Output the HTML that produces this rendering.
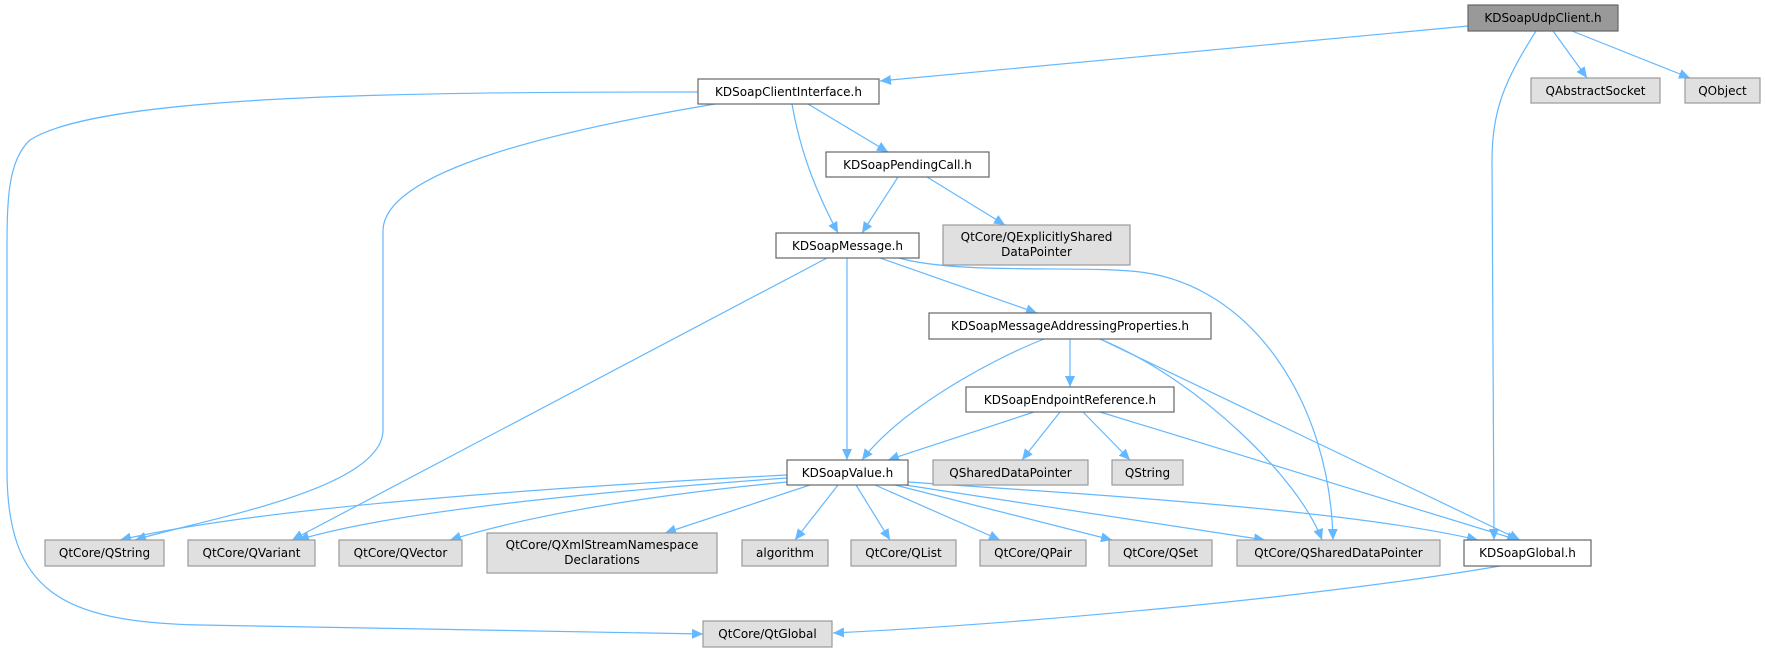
<!DOCTYPE html>
<html><head><meta charset="utf-8"><style>html,body{margin:0;padding:0;background:#fff;}svg{display:block}</style></head>
<body>
<svg width="1765" height="652" viewBox="0 0 1765 652" xmlns="http://www.w3.org/2000/svg" font-family="'DejaVu Sans','Liberation Sans',sans-serif" font-size="12">
<defs>
<marker id="a" markerUnits="userSpaceOnUse" markerWidth="12" markerHeight="10" refX="11" refY="5" orient="auto">
<path d="M0,0 L11,5 L0,10 Z" fill="#63b8ff"/>
</marker>
</defs>
<g fill="none" stroke="#63b8ff" stroke-width="1.2" marker-end="url(#a)">
<path d="M1468,26 L880,81"/>
<path d="M1553,31 L1587,78"/>
<path d="M1572,31 L1690,78"/>
<path d="M1536,31 C1505,80 1492,110 1492,160 L1494,540"/>
<path d="M698,92 C400,92 100,95 30,140 C8,160 7,200 7,250 L7,470 C7,590 60,622 200,625 L703,634"/>
<path d="M715,104 C560,130 385,170 383,230 L383,430 C383,490 200,520 135,540"/>
<path d="M792,104 C800,150 815,190 838,233"/>
<path d="M808,104 L888,152"/>
<path d="M898,177 L862,233"/>
<path d="M927,177 L1005,225"/>
<path d="M827,258 L292,540"/>
<path d="M847,258 L847,460"/>
<path d="M880,258 L1037,313"/>
<path d="M899,258 C960,275 1080,265 1140,272 C1250,285 1330,400 1333,540"/>
<path d="M1044,339 C990,360 900,410 862,460"/>
<path d="M1070,339 L1070,387"/>
<path d="M1100,339 C1200,380 1300,480 1322,540"/>
<path d="M1100,339 L1520,540"/>
<path d="M1034,412 L888,460"/>
<path d="M1060,412 L1022,460"/>
<path d="M1083,412 L1130,460"/>
<path d="M1100,412 L1518,540"/>
<path d="M787,475 C500,490 250,510 120,540"/>
<path d="M787,478 C550,495 380,515 298,540"/>
<path d="M787,482 C650,495 530,515 450,540"/>
<path d="M810,485 L665,533"/>
<path d="M838,485 L795,540"/>
<path d="M856,485 L890,540"/>
<path d="M875,485 L1000,540"/>
<path d="M895,485 L1112,540"/>
<path d="M905,485 L1265,540"/>
<path d="M908,482 C1100,495 1350,510 1478,540"/>
<path d="M1500,566 C1300,600 1000,625 833,633"/>
</g>
<g stroke-width="1.2">
<rect x="1468" y="5" width="150" height="26" fill="#999" stroke="#666"/>
<rect x="1531" y="78" width="129" height="25" fill="#e0e0e0" stroke="#999"/>
<rect x="1685" y="78" width="75" height="25" fill="#e0e0e0" stroke="#999"/>
<rect x="698" y="79" width="181" height="25" fill="#fff" stroke="#666"/>
<rect x="826" y="152" width="163" height="25" fill="#fff" stroke="#666"/>
<rect x="943" y="225" width="187" height="40" fill="#e0e0e0" stroke="#999"/>
<rect x="776" y="233" width="143" height="25" fill="#fff" stroke="#666"/>
<rect x="929" y="313" width="282" height="26" fill="#fff" stroke="#666"/>
<rect x="966" y="387" width="208" height="25" fill="#fff" stroke="#666"/>
<rect x="787" y="460" width="121" height="25" fill="#fff" stroke="#666"/>
<rect x="933" y="460" width="155" height="25" fill="#e0e0e0" stroke="#999"/>
<rect x="1112" y="460" width="71" height="25" fill="#e0e0e0" stroke="#999"/>
<rect x="45" y="540" width="119" height="26" fill="#e0e0e0" stroke="#999"/>
<rect x="188" y="540" width="127" height="26" fill="#e0e0e0" stroke="#999"/>
<rect x="339" y="540" width="123" height="26" fill="#e0e0e0" stroke="#999"/>
<rect x="487" y="533" width="230" height="40" fill="#e0e0e0" stroke="#999"/>
<rect x="742" y="540" width="86" height="26" fill="#e0e0e0" stroke="#999"/>
<rect x="851" y="540" width="105" height="26" fill="#e0e0e0" stroke="#999"/>
<rect x="980" y="540" width="106" height="26" fill="#e0e0e0" stroke="#999"/>
<rect x="1109" y="540" width="103" height="26" fill="#e0e0e0" stroke="#999"/>
<rect x="1237" y="540" width="203" height="26" fill="#e0e0e0" stroke="#999"/>
<rect x="1464" y="540" width="127" height="26" fill="#fff" stroke="#666"/>
<rect x="703" y="621" width="129" height="26" fill="#e0e0e0" stroke="#999"/>
</g>
<g fill="#000" text-anchor="middle">
<text x="1543" y="22">KDSoapUdpClient.h</text>
<text x="1595.5" y="95">QAbstractSocket</text>
<text x="1722.5" y="95">QObject</text>
<text x="788.5" y="96">KDSoapClientInterface.h</text>
<text x="907.5" y="169">KDSoapPendingCall.h</text>
<text x="1036.5" y="241">QtCore/QExplicitlyShared</text>
<text x="1036.5" y="256">DataPointer</text>
<text x="847.5" y="250">KDSoapMessage.h</text>
<text x="1070" y="330">KDSoapMessageAddressingProperties.h</text>
<text x="1070" y="404">KDSoapEndpointReference.h</text>
<text x="847.5" y="477">KDSoapValue.h</text>
<text x="1010.5" y="477">QSharedDataPointer</text>
<text x="1147.5" y="477">QString</text>
<text x="104.5" y="557">QtCore/QString</text>
<text x="251.5" y="557">QtCore/QVariant</text>
<text x="400.5" y="557">QtCore/QVector</text>
<text x="602" y="549">QtCore/QXmlStreamNamespace</text>
<text x="602" y="564">Declarations</text>
<text x="785" y="557">algorithm</text>
<text x="903.5" y="557">QtCore/QList</text>
<text x="1033" y="557">QtCore/QPair</text>
<text x="1160.5" y="557">QtCore/QSet</text>
<text x="1338.5" y="557">QtCore/QSharedDataPointer</text>
<text x="1527.5" y="557">KDSoapGlobal.h</text>
<text x="767.5" y="638">QtCore/QtGlobal</text>
</g>
</svg>
</body></html>
